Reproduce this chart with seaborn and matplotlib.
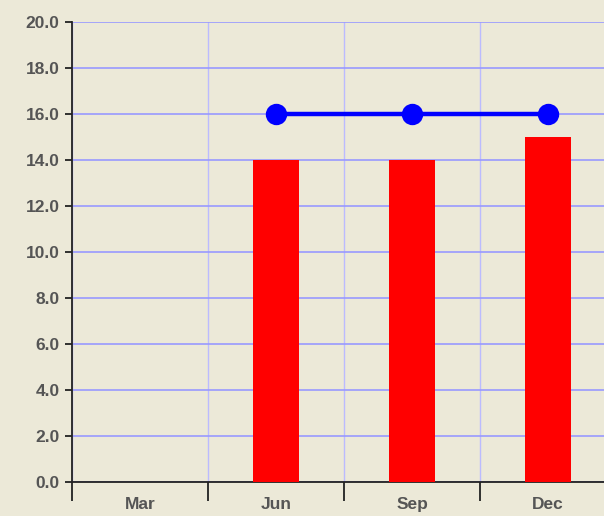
import numpy as np
import pandas as pd
import matplotlib
matplotlib.use("Agg")
import matplotlib.pyplot as plt
import seaborn as sns

# Data
months = ['Mar', 'Jun', 'Sep', 'Dec']
bar_values = [0, 14, 14, 15]
line_values = [np.nan, 16, 16, 16]
y_ticks = [0, 2, 4, 6, 8, 10, 12, 14, 16, 18, 20]

df = pd.DataFrame({'month': months, 'bars': bar_values, 'line': line_values})

bg = '#ECE9D8'
sns.set_style('white')
plt.rcParams['font.family'] = ['Liberation Sans', 'DejaVu Sans']

fig = plt.figure(figsize=(6.04, 5.16), dpi=100, facecolor=bg)
ax = fig.add_axes([72 / 604, 34 / 516, 544 / 604, 460 / 516])
ax.set_facecolor(bg)

sns.barplot(data=df, x='month', y='bars', order=months, color='#FF0000',
            width=0.34, saturation=1, edgecolor='none', linewidth=0, ax=ax, zorder=3)
sns.pointplot(data=df, x='month', y='line', order=months, color='#0000FF',
              markers='o', markersize=13, linewidth=3.2, ax=ax, zorder=4)
for coll in ax.collections:
    coll.set_zorder(5)

ax.set_xlim(-0.5, 3.5)
ax.set_ylim(0, 20)
ax.set_yticks(y_ticks)
ax.set_yticklabels([f'{v:.1f}' for v in y_ticks])

# gridlines: horizontal at y ticks, vertical at category boundaries
ax.set_xticks([-0.5, 0.5, 1.5, 2.5], minor=True)
ax.grid(axis='y', which='major', color='#9999FF', linewidth=1.2, zorder=0)
ax.grid(axis='x', which='minor', color='#BBBBFF', linewidth=1.0, zorder=0)
ax.set_axisbelow(True)

ax.tick_params(axis='x', which='major', bottom=True, length=0, pad=11,
               labelsize=12.5, labelcolor='#555555')
ax.tick_params(axis='x', which='minor', bottom=True, length=14, width=1.3,
               color='#222222', direction='out')
ax.tick_params(axis='y', which='major', left=True, length=5, width=1.3, color='#222222',
               direction='out', pad=4, labelsize=12.5, labelcolor='#555555')
for lbl in ax.get_xticklabels() + ax.get_yticklabels():
    lbl.set_fontweight('bold')

for side in ['top', 'right']:
    ax.spines[side].set_visible(False)
for side in ['left', 'bottom']:
    ax.spines[side].set_color('#222222')
    ax.spines[side].set_linewidth(1.3)

ax.set_xlabel('')
ax.set_ylabel('')

fig.savefig('out.png', dpi=100, facecolor=bg)
